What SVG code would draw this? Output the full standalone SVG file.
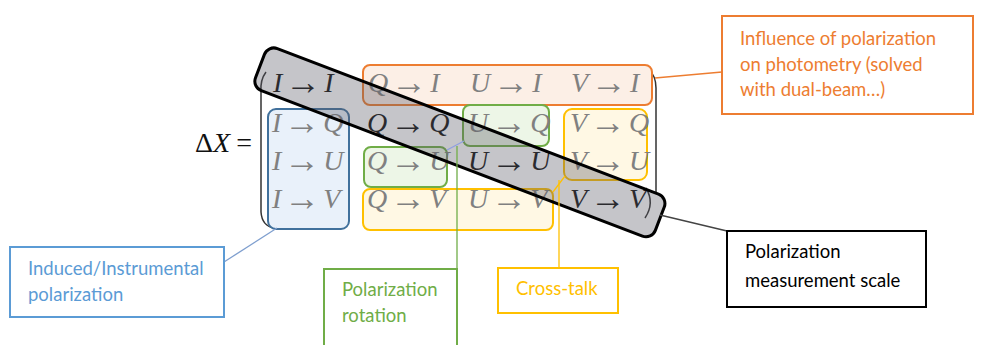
<svg xmlns="http://www.w3.org/2000/svg" width="985" height="345" viewBox="0 0 985 345">
<style>
.m{font-family:"Liberation Serif","Times New Roman",serif;font-size:28px;font-style:italic}
.m .a{font-style:normal;font-size:36px}
.m .u{font-style:normal}
.g{fill:#808080}
.k{fill:#111}
.lbl{font-family:Lato,"Open Sans",sans-serif;font-size:18.5px}
</style>
<rect width="985" height="345" fill="#fff"/>
<g id="brackets" fill="none" stroke="#333" stroke-width="1.5">
<path d="M266,72 Q260,80 261,92 L261,212 Q262,226 274,228"/>
<path d="M649,70 Q656,76 656,88 L656,192"/>
<path d="M646,188 Q655,203 645,218"/>
</g>
<g id="highlight-boxes">
<rect id="box-photometry" x="363" y="65" width="289" height="40" rx="7" fill="#fcefe6" stroke="#ed7d31" stroke-width="2"/>
<rect id="box-induced" x="268" y="109" width="81" height="120" rx="8" fill="#e9f1fa" stroke="#41719c" stroke-width="2"/>
<rect id="box-rot1" x="364" y="147" width="83" height="40" rx="7" fill="#edf6e7" stroke="#70ad47" stroke-width="2"/>
<rect id="box-rot2" x="463" y="105" width="86" height="41" rx="7" fill="#edf6e7" stroke="#70ad47" stroke-width="2"/>
<rect id="box-ct1" x="564" y="109" width="83" height="71" rx="8" fill="#fff8e4" stroke="#ffc000" stroke-width="2"/>
<rect id="box-ct2" x="363" y="189" width="190" height="41" rx="7" fill="#fff8e4" stroke="#ffc000" stroke-width="2"/>
</g>
<g id="matrix" class="m">
<text x="195" y="152" class="k"><tspan class="u">Δ</tspan>X<tspan class="u" dx="6">=</tspan></text>
<text x="273" y="92" class="k">I<tspan class="a" dx="3" dy="2">→</tspan><tspan dx="3" dy="-2">I</tspan></text>
<text x="368" y="92" class="g">Q<tspan class="a" dx="3" dy="2">→</tspan><tspan dx="3" dy="-2">I</tspan></text>
<text x="470" y="92" class="g">U<tspan class="a" dx="3" dy="2">→</tspan><tspan dx="3" dy="-2">I</tspan></text>
<text x="571" y="92" class="g">V<tspan class="a" dx="3" dy="2">→</tspan><tspan dx="3" dy="-2">I</tspan></text>
<text x="272" y="132" class="g">I<tspan class="a" dx="3" dy="2">→</tspan><tspan dx="3" dy="-2">Q</tspan></text>
<text x="367" y="132" class="k">Q<tspan class="a" dx="3" dy="2">→</tspan><tspan dx="3" dy="-2">Q</tspan></text>
<text x="468" y="132" class="g">U<tspan class="a" dx="3" dy="2">→</tspan><tspan dx="3" dy="-2">Q</tspan></text>
<text x="570" y="132" class="g">V<tspan class="a" dx="3" dy="2">→</tspan><tspan dx="3" dy="-2">Q</tspan></text>
<text x="272" y="170" class="g">I<tspan class="a" dx="3" dy="2">→</tspan><tspan dx="3" dy="-2">U</tspan></text>
<text x="367" y="170" class="g">Q<tspan class="a" dx="3" dy="2">→</tspan><tspan dx="3" dy="-2">U</tspan></text>
<text x="468" y="170" class="k">U<tspan class="a" dx="3" dy="2">→</tspan><tspan dx="3" dy="-2">U</tspan></text>
<text x="570" y="170" class="g">V<tspan class="a" dx="3" dy="2">→</tspan><tspan dx="3" dy="-2">U</tspan></text>
<text x="272" y="208" class="g">I<tspan class="a" dx="3" dy="2">→</tspan><tspan dx="3" dy="-2">V</tspan></text>
<text x="367" y="208" class="g">Q<tspan class="a" dx="3" dy="2">→</tspan><tspan dx="3" dy="-2">V</tspan></text>
<text x="468" y="208" class="g">U<tspan class="a" dx="3" dy="2">→</tspan><tspan dx="3" dy="-2">V</tspan></text>
<text x="570" y="208" class="k">V<tspan class="a" dx="3" dy="2">→</tspan><tspan dx="3" dy="-2">V</tspan></text>
</g>
<g id="diagonal-band">
<rect x="0" y="0" width="428" height="45" rx="10" transform="translate(268,45) rotate(20.9)" fill="#5a5a64" fill-opacity="0.35" stroke="#000" stroke-width="3"/>
</g>
<g id="connectors" fill="none" stroke-width="1.3">
<line x1="655" y1="78" x2="722" y2="72" stroke="#ed7d31"/>
<line x1="277" y1="228" x2="224" y2="262" stroke="#7f9fcf"/>
<line x1="447" y1="150" x2="464" y2="141" stroke="#8f9fe0"/>
<line x1="457" y1="146" x2="457" y2="269" stroke="#70ad47"/>
<line x1="553" y1="192" x2="565" y2="176" stroke="#ffc000"/>
<line x1="559" y1="180" x2="559" y2="268" stroke="#ffc000"/>
<line x1="660" y1="215" x2="727" y2="231" stroke="#444"/>
</g>
<g id="label-photometry">
<rect x="722" y="16" width="251" height="98" fill="#fff" stroke="#ed7d31" stroke-width="2"/>
<text class="lbl" fill="#ed7d31"><tspan x="740" y="45">Influence of polarization</tspan><tspan x="740" y="71">on photometry (solved</tspan><tspan x="740" y="96">with dual-beam…)</tspan></text>
</g>
<g id="label-induced">
<rect x="10" y="247" width="214" height="70" fill="#fff" stroke="#5b9bd5" stroke-width="2"/>
<text class="lbl" fill="#5b9bd5"><tspan x="28" y="275">Induced/Instrumental</tspan><tspan x="28" y="301">polarization</tspan></text>
</g>
<g id="label-rotation">
<rect x="324" y="269" width="133" height="90" fill="#fff" stroke="#70ad47" stroke-width="2"/>
<text class="lbl" fill="#70ad47"><tspan x="342" y="296">Polarization</tspan><tspan x="342" y="322">rotation</tspan></text>
</g>
<g id="label-crosstalk">
<rect x="498" y="268" width="120" height="45" fill="#fff" stroke="#ffc000" stroke-width="2"/>
<text class="lbl" fill="#ffc000" x="516" y="295">Cross-talk</text>
</g>
<g id="label-scale">
<rect x="727" y="231" width="199" height="76" fill="#fff" stroke="#000" stroke-width="2"/>
<text class="lbl" fill="#000"><tspan x="745" y="258">Polarization</tspan><tspan x="745" y="287">measurement scale</tspan></text>
</g>
</svg>
